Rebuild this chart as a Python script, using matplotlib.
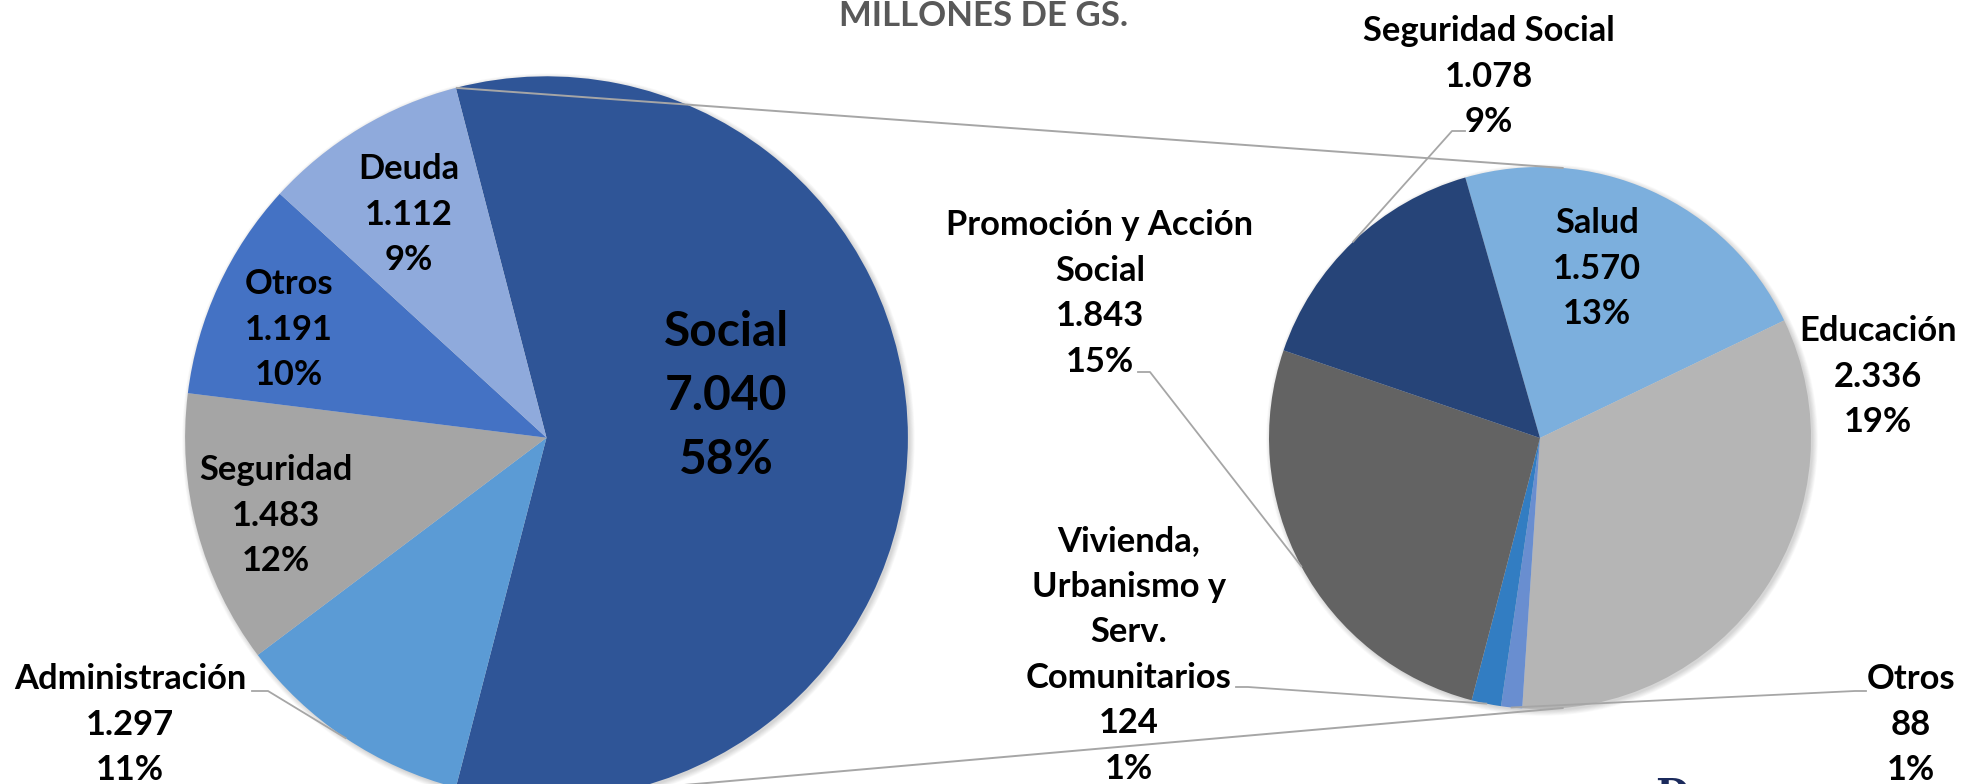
import matplotlib
matplotlib.use('Agg')
import matplotlib.pyplot as plt
from matplotlib.patches import Circle
import numpy as np

# ---------------- data ----------------
main_labels = ['Social', 'Administración', 'Seguridad', 'Otros', 'Deuda']
main_values = [7040, 1297, 1483, 1191, 1112]
main_colors = ['#2F5597', '#5B9BD5', '#A5A5A5', '#4472C4', '#8FAADC']

social_labels = ['Salud', 'Educación', 'Otros',
                 'Vivienda,\nUrbanismo y\nServ.\nComunitarios',
                 'Promoción y Acción\nSocial', 'Seguridad Social']
social_values = [1570, 2336, 88, 124, 1843, 1078]
social_colors = ['#7CAFDD', '#B5B5B5', '#698ED0', '#327DC2', '#636363', '#264478']

title = 'MILLONES DE GS.'

# ---------------- layout (pixel coords, y from top) ----------------
W, H = 1961, 784
fig = plt.figure(figsize=(W / 100, H / 100), dpi=100)
ax = fig.add_axes([0, 0, 1, 1])


def Y(y):
    return H - y


L_c = (546.5, Y(437.7)); L_r = 361.4
R_c = (1540.0, Y(438.0)); R_r = 271.0
FONT = ['Lato', 'DejaVu Sans']
LINE_COL = '#A6A6A6'
total = sum(main_values)


def fmt(v):
    return f"{v:,}".replace(',', '.')


def pct(v):
    return f"{round(v / total * 100)}%"


# soft shadows
for c, r in ((L_c, L_r), (R_c, R_r)):
    for i in range(7):
        ax.add_patch(Circle((c[0] + 2, c[1] - 2), r + 0.8 * i, color='black',
                            alpha=0.022, lw=0, zorder=1))

start_left = 180.0 * main_values[0] / total
wl, _ = ax.pie(main_values, colors=main_colors, startangle=start_left,
               counterclock=False, center=L_c, radius=L_r, frame=True,
               wedgeprops=dict(linewidth=0, zorder=2))
wr, _ = ax.pie(social_values, colors=social_colors, startangle=106,
               counterclock=False, center=R_c, radius=R_r, frame=True,
               wedgeprops=dict(linewidth=0, zorder=2))
for w in list(wl) + list(wr):
    w.set_zorder(2)


def edge_point(w, c, r, frac=1.0):
    m = np.deg2rad((w.theta1 + w.theta2) / 2)
    return (c[0] + frac * r * np.cos(m), c[1] + frac * r * np.sin(m))


# connector lines between the two pies
soc = wl[0]
p_a = (L_c[0] + L_r * np.cos(np.deg2rad(soc.theta2)), L_c[1] + L_r * np.sin(np.deg2rad(soc.theta2)))
p_b = (L_c[0] + L_r * np.cos(np.deg2rad(soc.theta1)), L_c[1] + L_r * np.sin(np.deg2rad(soc.theta1)))
top_pt, bot_pt = (p_a, p_b) if p_a[1] > p_b[1] else (p_b, p_a)
bot_pt = (bot_pt[0], Y(805))  # lower connector leaves the frame further right
r_top = (R_c[0] + R_r * np.cos(np.deg2rad(85)), R_c[1] + R_r * np.sin(np.deg2rad(85)))
r_bot = (R_c[0] + R_r * np.cos(np.deg2rad(-85)), R_c[1] + R_r * np.sin(np.deg2rad(-85)))
for a, b in ((top_pt, r_top), (bot_pt, r_bot)):
    ax.plot([a[0], b[0]], [a[1], b[1]], color=LINE_COL, lw=1.4, zorder=3,
            solid_capstyle='butt')

# ---------------- labels ----------------
FS = 24.8
SP = 45.6


def draw_label(lines, x, y0, fs=FS, sp=SP):
    for k, ln in enumerate(lines):
        ax.text(x, Y(y0 + k * sp), ln, ha='center', va='baseline',
                fontsize=fs, fontweight='bold', family=FONT, color='black',
                zorder=4)


main_pos = [(726, 346), (130, 689), (276, 480), (289, 294), (409, 179)]
for i, (lab, v) in enumerate(zip(main_labels, main_values)):
    lines = lab.split('\n') + [fmt(v), pct(v)]
    x, y0 = main_pos[i]
    if i == 0:
        draw_label(lines, x, y0, fs=34.5, sp=64)
    else:
        draw_label(lines, x, y0)

social_pos = [(1597, 233), (1878, 341), (1911, 689), (1129, 551), (1100, 235), (1489, 41)]
for i, (lab, v) in enumerate(zip(social_labels, social_values)):
    lines = lab.split('\n') + [fmt(v), pct(v)]
    x, y0 = social_pos[i]
    draw_label(lines, x, y0)

# leader lines
leaders = [
    (wl[1], L_c, L_r, [(252, 691), (268, 691)]),
    (wr[2], R_c, R_r, [(1866, 691), (1855, 691)]),
    (wr[3], R_c, R_r, [(1236, 687), (1248, 687)]),
    (wr[4], R_c, R_r, [(1138, 372), (1150, 372)]),
    (wr[5], R_c, R_r, [(1465, 131), (1452, 131)]),
]
for w, c, r, pts in leaders:
    ex, ey = edge_point(w, c, r)
    xs = [p[0] for p in pts] + [ex]
    ys = [Y(p[1]) for p in pts] + [ey]
    ax.plot(xs, ys, color=LINE_COL, lw=1.3, zorder=3)

# title (right at the top edge of the image)
ax.text(984, Y(26), title, ha='center', va='baseline', fontsize=25,
        fontweight='bold', family=FONT, color='#595959', zorder=4)

# partially visible logo glyph at the bottom edge
ax.text(1672, Y(777), 'D', ha='center', va='top', fontsize=28,
        fontweight='bold', family=['DejaVu Serif'], color='#1B2A5C', zorder=4)

ax.set_xlim(0, W)
ax.set_ylim(0, H)
ax.set_aspect('equal')
ax.axis('off')
fig.savefig('out.png', dpi=100, facecolor='white')
